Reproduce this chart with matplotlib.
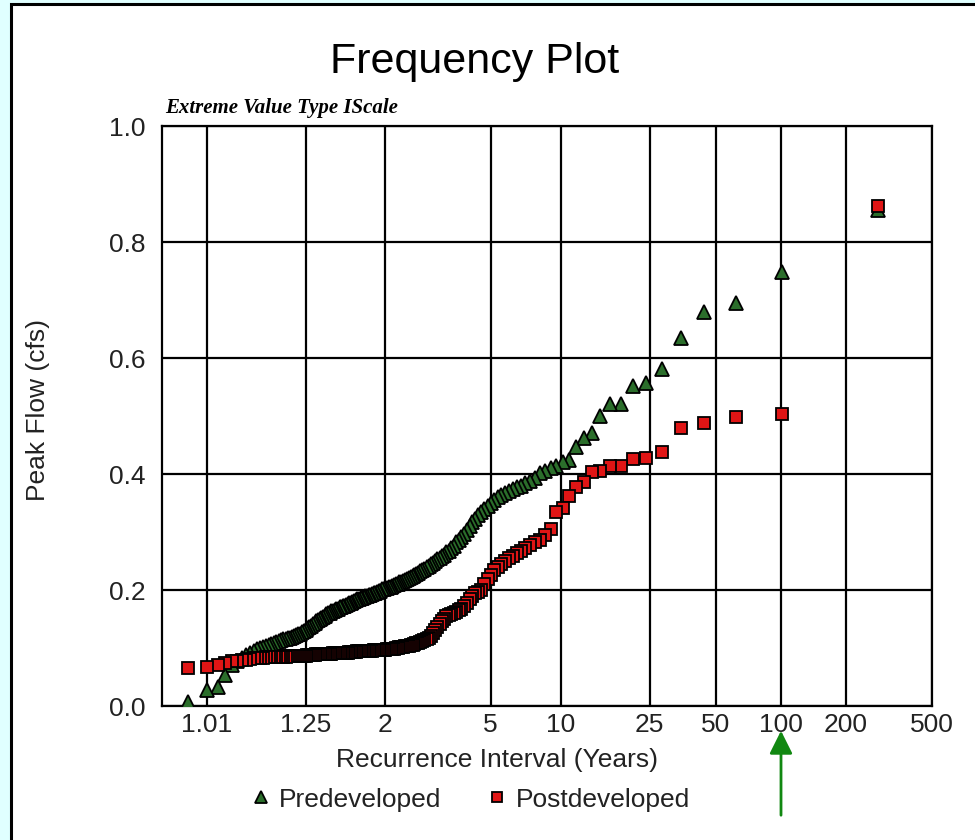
import numpy as np
import matplotlib
matplotlib.use("Agg")
import matplotlib.pyplot as plt
from matplotlib.patches import Rectangle, FancyArrowPatch

plt.rcParams['font.family'] = ['Liberation Sans', 'DejaVu Sans']

# annual peaks, 158 simulated years, sorted largest (rank 1) to smallest
n_years = 158
pre_flow = [
    0.855, 0.748, 0.695, 0.679, 0.634, 0.581, 0.557, 0.552, 0.521, 0.521, 0.500, 0.471, 0.462, 0.447, 0.424,
    0.421, 0.414, 0.410, 0.405, 0.401, 0.393, 0.388, 0.384, 0.380, 0.377, 0.374, 0.371, 0.367, 0.364, 0.360,
    0.356, 0.350, 0.344, 0.339, 0.334, 0.329, 0.323, 0.317, 0.310, 0.303, 0.297, 0.292, 0.287, 0.282, 0.276,
    0.272, 0.268, 0.265, 0.261, 0.258, 0.256, 0.253, 0.250, 0.247, 0.244, 0.241, 0.239, 0.237, 0.234, 0.232,
    0.230, 0.228, 0.226, 0.224, 0.222, 0.221, 0.219, 0.217, 0.216, 0.214, 0.213, 0.211, 0.210, 0.208, 0.207,
    0.206, 0.205, 0.204, 0.203, 0.202, 0.201, 0.199, 0.198, 0.196, 0.195, 0.194, 0.193, 0.192, 0.191, 0.190,
    0.189, 0.188, 0.187, 0.186, 0.185, 0.184, 0.182, 0.181, 0.180, 0.178, 0.177, 0.176, 0.175, 0.173, 0.172,
    0.171, 0.170, 0.168, 0.167, 0.166, 0.164, 0.163, 0.161, 0.160, 0.158, 0.156, 0.154, 0.152, 0.150, 0.148,
    0.146, 0.143, 0.141, 0.138, 0.136, 0.134, 0.131, 0.129, 0.127, 0.125, 0.124, 0.122, 0.121, 0.119, 0.118,
    0.117, 0.116, 0.115, 0.113, 0.112, 0.110, 0.108, 0.107, 0.105, 0.103, 0.101, 0.100, 0.099, 0.095, 0.092,
    0.088, 0.083, 0.078, 0.071, 0.053, 0.033, 0.028, 0.007,
]
post_flow = [
    0.862, 0.503, 0.499, 0.488, 0.479, 0.438, 0.428, 0.426, 0.414, 0.414, 0.406, 0.403, 0.386, 0.378, 0.362,
    0.341, 0.335, 0.306, 0.295, 0.287, 0.282, 0.277, 0.272, 0.268, 0.263, 0.258, 0.255, 0.250, 0.245, 0.239,
    0.234, 0.226, 0.219, 0.210, 0.200, 0.197, 0.194, 0.190, 0.184, 0.177, 0.172, 0.168, 0.165, 0.162, 0.160,
    0.158, 0.157, 0.155, 0.150, 0.146, 0.141, 0.136, 0.131, 0.126, 0.121, 0.118, 0.116, 0.114, 0.112, 0.110,
    0.109, 0.108, 0.107, 0.106, 0.105, 0.104, 0.104, 0.103, 0.102, 0.101, 0.101, 0.100, 0.100, 0.099, 0.099,
    0.099, 0.098, 0.098, 0.097, 0.097, 0.097, 0.097, 0.096, 0.096, 0.096, 0.096, 0.095, 0.095, 0.095, 0.095,
    0.095, 0.094, 0.094, 0.094, 0.094, 0.094, 0.093, 0.093, 0.093, 0.093, 0.093, 0.092, 0.092, 0.092, 0.092,
    0.092, 0.091, 0.091, 0.091, 0.091, 0.091, 0.090, 0.090, 0.090, 0.090, 0.090, 0.089, 0.089, 0.089, 0.089,
    0.089, 0.088, 0.088, 0.088, 0.088, 0.088, 0.087, 0.087, 0.087, 0.087, 0.087, 0.086, 0.086, 0.086, 0.086,
    0.086, 0.085, 0.085, 0.085, 0.085, 0.085, 0.084, 0.084, 0.084, 0.084, 0.083, 0.083, 0.083, 0.082, 0.081,
    0.080, 0.079, 0.078, 0.077, 0.075, 0.071, 0.067, 0.065,
]
tick_T = [1.01, 1.25, 2, 5, 10, 25, 50, 100, 200, 500]
tick_labels = ["1.01", "1.25", "2", "5", "10", "25", "50", "100", "200", "500"]
y_ticks = [0.0, 0.2, 0.4, 0.6, 0.8, 1.0]


def gumbel(T):
    T = np.asarray(T, dtype=float)
    with np.errstate(all='ignore'):
        return -np.log(-np.log(1.0 - 1.0 / T))


def gumbel_inv(u):
    u = np.asarray(u, dtype=float)
    with np.errstate(all='ignore'):
        return 1.0 / (1.0 - np.exp(-np.exp(-u)))


# Gringorten plotting position for each rank
rank = np.arange(1, n_years + 1)
rec_T = (n_years + 0.12) / (rank - 0.44)

fig = plt.figure(figsize=(9.75, 8.4), dpi=100)
fig.patch.set_facecolor('#e0ffff')
fig.add_artist(Rectangle((11 / 975, -0.1), 1.2, 836 / 840 + 0.1, transform=fig.transFigure,
                         facecolor='white', edgecolor='black', linewidth=2.2, zorder=-5))

ax = fig.add_axes([162 / 975, 1 - 706 / 840, (932 - 162) / 975, (706 - 126) / 840])
ax.set_xscale('function', functions=(gumbel, gumbel_inv))
ax.set_xlim(1.000573, 500)
ax.set_ylim(0, 1.0)

ax.plot(rec_T, pre_flow, linestyle='none', marker='^', markersize=10, color='#2b6e2b',
        markeredgecolor='black', markeredgewidth=1.3, label='Predeveloped', zorder=3)
ax.plot(rec_T, post_flow, linestyle='none', marker='s', markersize=8.5, color='#e01515',
        markeredgecolor='black', markeredgewidth=1.3, label='Postdeveloped', zorder=4)

ax.set_xticks(tick_T)
ax.set_xticklabels(tick_labels)
ax.xaxis.set_minor_locator(matplotlib.ticker.NullLocator())
ax.set_yticks(y_ticks)
ax.set_yticklabels([f"{v:.1f}" for v in y_ticks])
ax.tick_params(axis='both', length=0, labelsize=19, colors='#222222')
ax.tick_params(axis='x', pad=5)
ax.tick_params(axis='y', pad=12)
ax.grid(True, color='black', linewidth=1.6)
for s in ax.spines.values():
    s.set_linewidth(1.6)
    s.set_color('black')

fig.text(0.487, 0.926, "Frequency Plot", ha='center', va='center', fontsize=31)
fig.text(0.169, 0.871, "Extreme Value Type IScale", ha='left', va='center', fontsize=15,
         family=['Liberation Serif', 'DejaVu Serif'], style='italic', fontweight='bold')
fig.text(0.039, 0.512, "Peak Flow (cfs)", ha='center', va='center', rotation=90,
         fontsize=19, color='#222222')
fig.text(0.510, 0.095, "Recurrence Interval (Years)", ha='center', va='center',
         fontsize=19, color='#222222')

fig.legend(loc='center', bbox_to_anchor=(0.482, 0.048), ncol=2, frameon=False,
           fontsize=19, handlelength=0.8, handletextpad=0.3, columnspacing=1.7,
           markerscale=0.85, labelcolor='#222222')

arrow = FancyArrowPatch((781 / 975, 22 / 840), (781 / 975, 112 / 840), transform=fig.transFigure,
                        arrowstyle='-|>,head_length=10,head_width=5', color='#118811',
                        linewidth=2, mutation_scale=1.4)
fig.add_artist(arrow)

fig.savefig('out.png', dpi=100)
